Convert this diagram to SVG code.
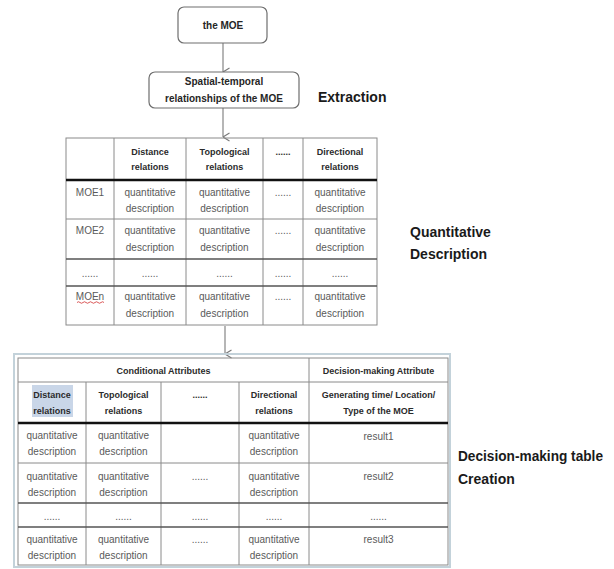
<svg xmlns="http://www.w3.org/2000/svg" width="614" height="569" viewBox="0 0 614 569">
<defs>
<marker id="arr" viewBox="0 0 10 10" refX="5" refY="9.5" markerWidth="10" markerHeight="10" markerUnits="userSpaceOnUse" orient="auto-start-reverse">
<path d="M1,3 L5,9.5 L9,3" fill="none" stroke="#7a7a7a" stroke-width="1.1"/>
</marker>
</defs>
<style>
text{font-family:"Liberation Sans",Arial,sans-serif;}
.box{fill:#fff;stroke:#6e6e6e;stroke-width:1.2;}
.bt{font-size:10px;font-weight:bold;fill:#262626;text-anchor:middle;}
.lab{font-size:14px;font-weight:bold;fill:#1a1a1a;}
.h{font-size:9px;font-weight:bold;fill:#2b2b2b;text-anchor:middle;}
.b{font-size:10px;fill:#5a5a5a;text-anchor:middle;}
.grid{stroke:#8a8a8a;stroke-width:1;fill:none;}
.gridd{stroke:#555;stroke-width:1.4;fill:none;}
.thick{stroke:#111;stroke-width:2.5;}
.conn{stroke:#7a7a7a;stroke-width:1.1;fill:none;}
</style>
<rect width="614" height="569" fill="#fff"/>

<g id="connectors">
<line class="conn" x1="223" y1="43" x2="223" y2="72" marker-end="url(#arr)"/>
<line class="conn" x1="223" y1="108" x2="223" y2="137" marker-end="url(#arr)"/>
<line class="conn" x1="225" y1="326" x2="225" y2="354" marker-end="url(#arr)"/>
</g>

<g id="node-moe">
<rect class="box" x="178" y="7" width="89" height="36" rx="6"/>
<text class="bt" x="223" y="29">the MOE</text>
</g>

<g id="node-spatial">
<rect class="box" x="149" y="72" width="150" height="36" rx="6"/>
<text class="bt" x="224" y="85">Spatial-temporal</text>
<text class="bt" x="224" y="102">relationships of the MOE</text>
</g>

<g id="label-extraction">
<text class="lab" x="318" y="102" font-size="15">Extraction</text>
</g>

<g id="table-quantitative">
<rect class="grid" x="66" y="138" width="311" height="187"/>
<line class="grid" x1="114" y1="138" x2="114" y2="325"/>
<line class="grid" x1="186" y1="138" x2="186" y2="325"/>
<line class="grid" x1="263" y1="138" x2="263" y2="325"/>
<line class="grid" x1="303" y1="138" x2="303" y2="325"/>
<line class="thick" x1="66" y1="180" x2="377" y2="180"/>
<line class="grid" x1="66" y1="219" x2="377" y2="219"/>
<line class="gridd" x1="66" y1="259" x2="377" y2="259"/>
<line class="gridd" x1="66" y1="286" x2="377" y2="286"/>
<text class="h" x="150" y="155">Distance</text>
<text class="h" x="150" y="170">relations</text>
<text class="h" x="224.5" y="155">Topological</text>
<text class="h" x="224.5" y="170">relations</text>
<text class="h" x="283" y="155">......</text>
<text class="h" x="340" y="155">Directional</text>
<text class="h" x="340" y="170">relations</text>

<text class="b" x="90" y="195.5">MOE1</text>
<text class="b" x="150" y="195.5">quantitative</text>
<text class="b" x="150" y="211.5">description</text>
<text class="b" x="224.5" y="195.5">quantitative</text>
<text class="b" x="224.5" y="211.5">description</text>
<text class="b" x="283" y="195.5">......</text>
<text class="b" x="340" y="195.5">quantitative</text>
<text class="b" x="340" y="211.5">description</text>

<text class="b" x="90" y="233.5">MOE2</text>
<text class="b" x="150" y="233.5">quantitative</text>
<text class="b" x="150" y="250.5">description</text>
<text class="b" x="224.5" y="233.5">quantitative</text>
<text class="b" x="224.5" y="250.5">description</text>
<text class="b" x="283" y="233.5">......</text>
<text class="b" x="340" y="233.5">quantitative</text>
<text class="b" x="340" y="250.5">description</text>

<text class="b" x="90" y="277">......</text>
<text class="b" x="150" y="277">......</text>
<text class="b" x="224.5" y="277">......</text>
<text class="b" x="283" y="277">......</text>
<text class="b" x="340" y="277">......</text>

<text class="b" x="90" y="299.5">MOEn</text>
<path d="M77,302.5 q1.5,-1.5 3,0 t3,0 t3,0 t3,0 t3,0 t3,0 t3,0 t3,0 t3,0" fill="none" stroke="#d03030" stroke-width="0.8"/>
<text class="b" x="150" y="299.5">quantitative</text>
<text class="b" x="150" y="316.5">description</text>
<text class="b" x="224.5" y="299.5">quantitative</text>
<text class="b" x="224.5" y="316.5">description</text>
<text class="b" x="283" y="299.5">......</text>
<text class="b" x="340" y="299.5">quantitative</text>
<text class="b" x="340" y="316.5">description</text>
</g>

<g id="label-quantitative">
<text class="lab" x="410" y="237">Quantitative</text>
<text class="lab" x="410" y="259">Description</text>
</g>

<g id="table-decision">
<rect x="14" y="354" width="436" height="213" fill="none" stroke="#c3d2da" stroke-width="2"/>
<rect x="32" y="385" width="41" height="32" fill="#c9d6e8"/>
<rect class="grid" x="18" y="358" width="430" height="207"/>
<line class="grid" x1="18" y1="382" x2="448" y2="382"/>
<line class="grid" x1="309" y1="358" x2="309" y2="565"/>
<line class="grid" x1="86" y1="382" x2="86" y2="565"/>
<line class="grid" x1="161" y1="382" x2="161" y2="565"/>
<line class="grid" x1="239" y1="382" x2="239" y2="565"/>
<line class="thick" x1="18" y1="423" x2="448" y2="423"/>
<line class="grid" x1="18" y1="463" x2="448" y2="463"/>
<line class="gridd" x1="18" y1="503" x2="448" y2="503"/>
<line class="gridd" x1="18" y1="527" x2="448" y2="527"/>

<text class="h" x="163.5" y="374">Conditional Attributes</text>
<text class="h" x="378.5" y="374">Decision-making Attribute</text>

<text class="h" x="52" y="398">Distance</text>
<text class="h" x="52" y="414">relations</text>
<text class="h" x="123.5" y="398">Topological</text>
<text class="h" x="123.5" y="414">relations</text>
<text class="h" x="200" y="398">......</text>
<text class="h" x="274" y="398">Directional</text>
<text class="h" x="274" y="414">relations</text>
<text class="h" x="378.5" y="398">Generating time/ Location/</text>
<text class="h" x="378.5" y="414">Type of the MOE</text>

<text class="b" x="52" y="438.5">quantitative</text>
<text class="b" x="52" y="454.5">description</text>
<text class="b" x="123.5" y="438.5">quantitative</text>
<text class="b" x="123.5" y="454.5">description</text>
<text class="b" x="274" y="438.5">quantitative</text>
<text class="b" x="274" y="454.5">description</text>
<text class="b" x="378.5" y="440">result1</text>

<text class="b" x="52" y="479.5">quantitative</text>
<text class="b" x="52" y="495.5">description</text>
<text class="b" x="123.5" y="479.5">quantitative</text>
<text class="b" x="123.5" y="495.5">description</text>
<text class="b" x="200" y="479.5">......</text>
<text class="b" x="274" y="479.5">quantitative</text>
<text class="b" x="274" y="495.5">description</text>
<text class="b" x="378.5" y="479.5">result2</text>

<text class="b" x="52" y="520">......</text>
<text class="b" x="123.5" y="520">......</text>
<text class="b" x="200" y="520">......</text>
<text class="b" x="274" y="520">......</text>
<text class="b" x="378.5" y="520">......</text>

<text class="b" x="52" y="542.5">quantitative</text>
<text class="b" x="52" y="558.5">description</text>
<text class="b" x="123.5" y="542.5">quantitative</text>
<text class="b" x="123.5" y="558.5">description</text>
<text class="b" x="200" y="542.5">......</text>
<text class="b" x="274" y="542.5">quantitative</text>
<text class="b" x="274" y="558.5">description</text>
<text class="b" x="378.5" y="542.5">result3</text>
</g>

<g id="label-decision">
<text class="lab" x="458" y="461" textLength="145" lengthAdjust="spacingAndGlyphs">Decision-making table</text>
<text class="lab" x="458" y="484">Creation</text>
</g>
</svg>
